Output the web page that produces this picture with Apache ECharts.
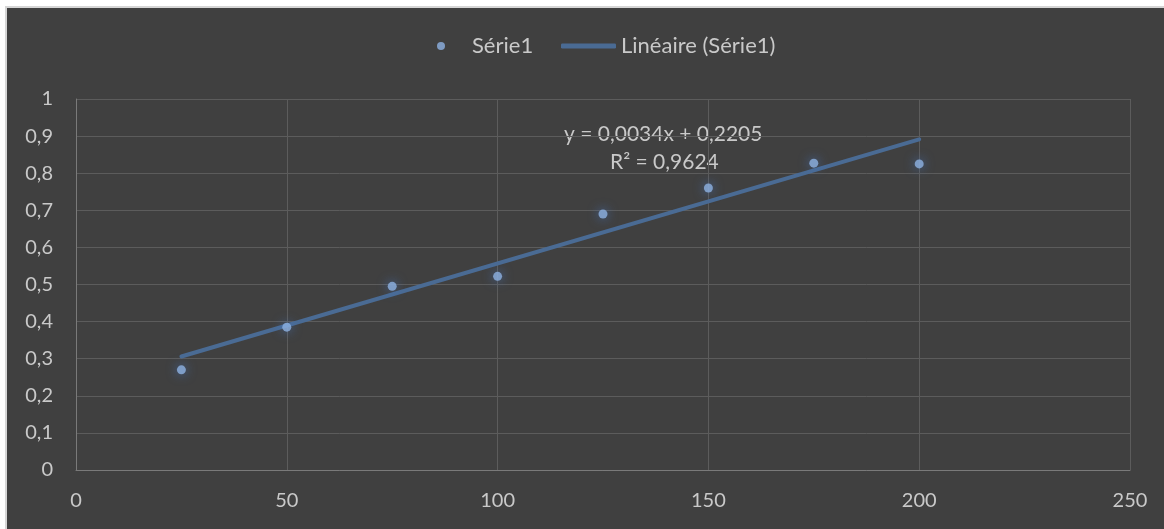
<!DOCTYPE html>
<html>
<head>
<meta charset="utf-8">
<script src="https://cdn.jsdelivr.net/npm/echarts@6/dist/echarts.min.js"></script>
<style>
  html, body { margin: 0; padding: 0; background: #ffffff; }
  #frame { position: absolute; left: 5px; top: 6px; width: 1159px; height: 523px; background: #d6d6d6; }
  #chart { position: absolute; left: 7px; top: 8px; width: 1157px; height: 521px; }
</style>
</head>
<body>
<div id="frame"></div>
<div id="chart"></div>
<script>
const xValues = [25, 50, 75, 100, 125, 150, 175, 200];
const yValues = [0.27, 0.385, 0.495, 0.522, 0.69, 0.76, 0.827, 0.825];
const trendX = [25, 200];
const trendY = [0.306, 0.891];
const equationLines = ['y = 0,0034x + 0,2205', 'R² = 0,9624'];
const seriesName = 'Série1';
const trendName = 'Linéaire (Série1)';

const FONT = 'Lato';
const TXT = '#c9c9c9';

const chart = echarts.init(document.getElementById('chart'), null, { renderer: 'canvas' });
const fmt = v => String(v).replace('.', ',');

chart.setOption({
  backgroundColor: '#404040',
  animation: false,
  textStyle: { fontFamily: FONT },
  grid: { left: 69, right: 34, top: 91, bottom: 59 },
  legend: [
    {
      left: 425, top: 22, itemWidth: 30, itemHeight: 8, icon: 'circle',
      data: [seriesName],
      textStyle: { color: TXT, fontSize: 22, fontFamily: FONT, padding: [0, 0, 0, 11] }
    },
    {
      left: 549, top: 22, itemWidth: 55, itemHeight: 5, icon: 'roundRect',
      data: [trendName],
      textStyle: { color: TXT, fontSize: 22, fontFamily: FONT }
    }
  ],
  xAxis: {
    type: 'value', min: 0, max: 250, interval: 50,
    axisLine: { show: true, lineStyle: { color: '#7a7a7a', width: 1 } },
    axisTick: { show: false },
    splitLine: { show: true, lineStyle: { color: '#5c5c5c', width: 1 } },
    axisLabel: { color: TXT, fontSize: 20, fontFamily: FONT, margin: 21 }
  },
  yAxis: {
    type: 'value', min: 0, max: 1, interval: 0.1,
    axisLine: { show: true, lineStyle: { color: '#7a7a7a', width: 1 } },
    axisTick: { show: false },
    splitLine: { show: true, lineStyle: { color: '#5c5c5c', width: 1 } },
    axisLabel: { color: TXT, fontSize: 20, fontFamily: FONT, margin: 23, formatter: v => fmt(Math.round(v * 10) / 10) }
  },
  graphic: [
    {
      type: 'text', left: 557, top: 116,
      style: { text: equationLines[0], fill: TXT, font: '21px ' + FONT }
    },
    {
      type: 'text', left: 603, top: 144,
      style: { text: equationLines[1], fill: TXT, font: '21px ' + FONT }
    }
  ],
  series: [
    {
      name: trendName, type: 'line', showSymbol: false, z: 2,
      data: trendX.map((x, i) => [x, trendY[i]]),
      lineStyle: { color: '#4a6b94', width: 4, cap: 'round' },
      itemStyle: { color: '#4a6b94' }
    },
    {
      name: seriesName, type: 'scatter', symbol: 'circle', symbolSize: 9, z: 3,
      data: xValues.map((x, i) => [x, yValues[i]]),
      itemStyle: { color: '#8db2e2', shadowBlur: 11, shadowColor: 'rgba(70,120,200,0.95)' }
    }
  ]
});
</script>
</body>
</html>
